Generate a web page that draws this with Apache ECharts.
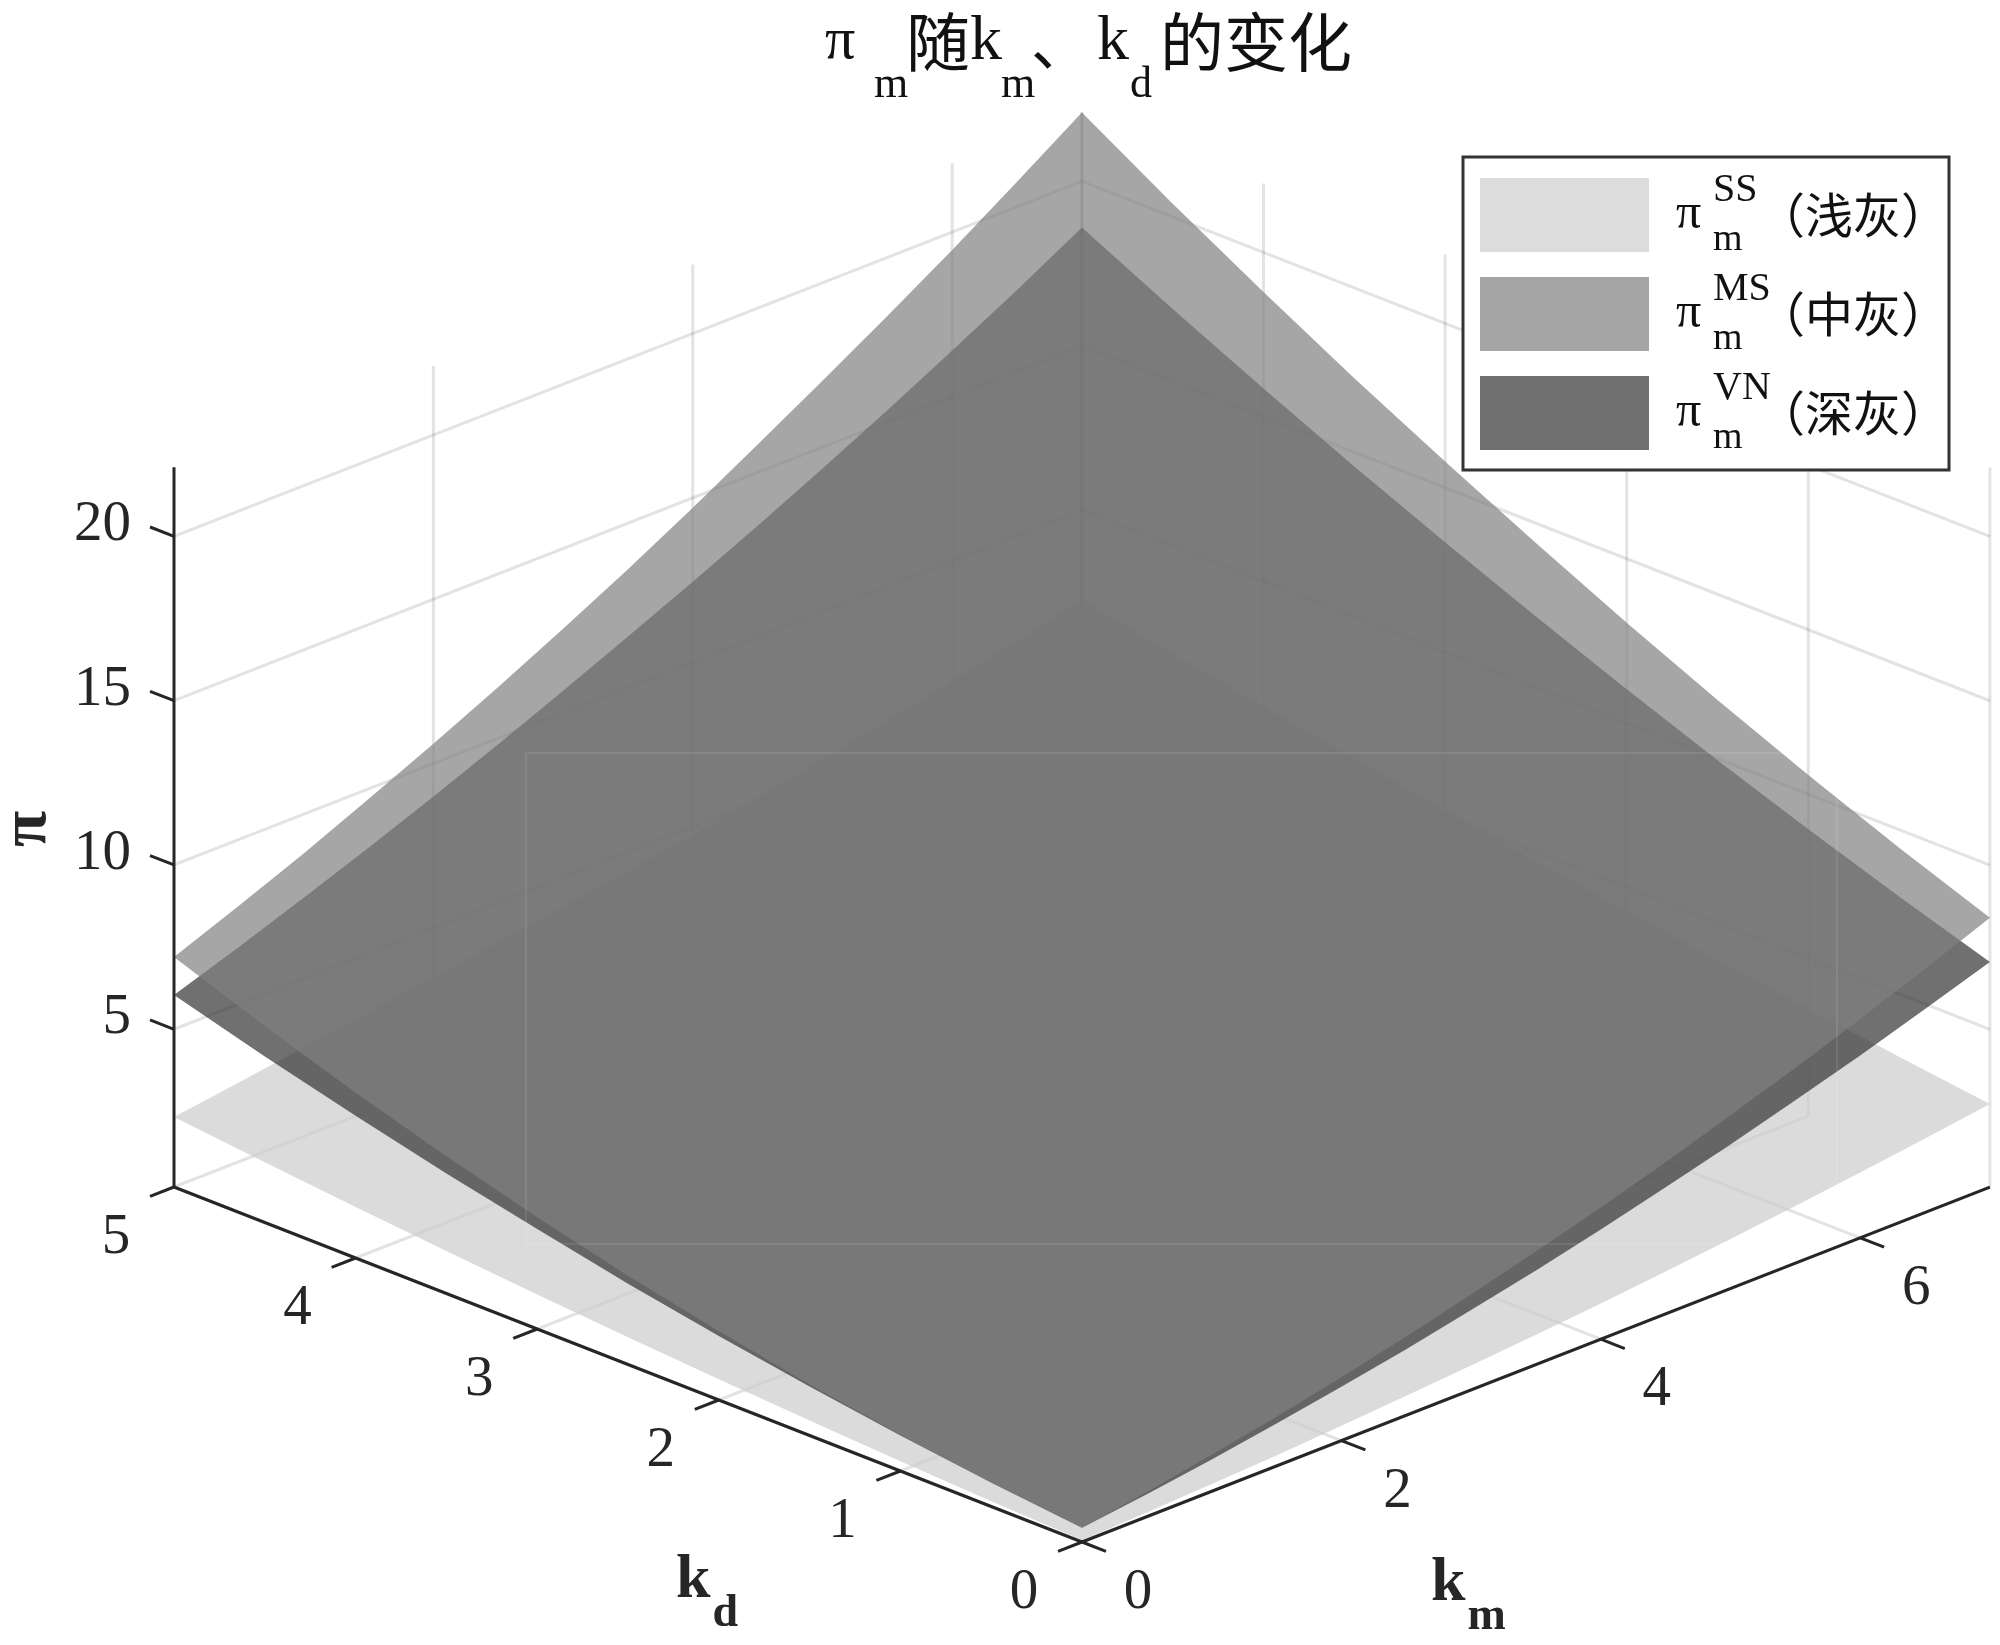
<!DOCTYPE html>
<html><head><meta charset="utf-8">
<style>html,body{margin:0;padding:0;background:#fff}#c{width:2000px;height:1645px}</style>
<script src="https://cdn.jsdelivr.net/npm/echarts@6/dist/echarts.min.js"></script>
</head><body><div id="c"></div>
<script>
// axis ticks
const kmTicks = [0, 2, 4, 6];
const kdTicks = [0, 1, 2, 3, 4, 5];
const piTicks = [5, 10, 15, 20];
const kmMax = 7, kdMax = 5, piMin = 0.2, piMax = 22.1;

// surface heights read along the four edges of the (km, kd) square
const kmSamples = [0, 0.5, 1, 1.5, 2, 2.5, 3, 3.5, 4, 4.5, 5, 5.5, 6, 6.5, 7];
const kdSamples = [0, 0.5, 1, 1.5, 2, 2.5, 3, 3.5, 4, 4.5, 5];
// SS
const ssKm0 = [0.25, 0.36, 0.50, 0.66, 0.83, 1.03, 1.25, 1.49, 1.75, 2.03, 2.33];
const ssKd5 = [2.33, 2.61, 2.90, 3.20, 3.50, 3.80, 4.10, 4.42, 4.75, 5.11, 5.50, 5.91, 6.35, 6.79, 7.26];
const ssKm7 = [2.73, 3.09, 3.47, 3.87, 4.29, 4.73, 5.20, 5.68, 6.19, 6.71, 7.26];
const ssKd0 = [0.25, 0.33, 0.42, 0.52, 0.65, 0.79, 0.94, 1.11, 1.29, 1.49, 1.71, 1.94, 2.19, 2.45, 2.73];
// MS
const msKm0 = [0.63, 0.92, 1.30, 1.75, 2.29, 2.90, 3.60, 4.38, 5.23, 6.17, 7.20];
const msKd5 = [7.20, 7.99, 8.81, 9.69, 10.6, 11.56, 12.56, 13.6, 14.7, 15.85, 17.02, 18.22, 19.46, 20.76, 22.1];
const msKm7 = [8.40, 9.45, 10.58, 11.78, 13.05, 14.4, 15.8, 17.25, 18.8, 20.4, 22.1];
const msKd0 = [0.63, 0.95, 1.31, 1.70, 2.13, 2.60, 3.10, 3.64, 4.21, 4.81, 5.47, 6.14, 6.86, 7.61, 8.40];
// VN
const vnKm0 = [0.63, 0.93, 1.28, 1.69, 2.15, 2.66, 3.24, 3.85, 4.53, 5.25, 6.04];
const vnKd5 = [6.04, 6.73, 7.46, 8.21, 9.00, 9.82, 10.67, 11.55, 12.45, 13.38, 14.35, 15.35, 16.4, 17.47, 18.6];
const vnKm7 = [7.05, 7.96, 8.93, 9.95, 11.03, 12.16, 13.34, 14.57, 15.86, 17.2, 18.6];
const vnKd0 = [0.63, 0.88, 1.17, 1.49, 1.84, 2.21, 2.63, 3.06, 3.54, 4.05, 4.58, 5.16, 5.75, 6.39, 7.05];

const seriesNames = ['πSS', 'πMS', 'πVN'];

// oblique view of the box, in the plane of the hidden x/y axes
function project(km, kd, pi) {
  return [1082 + 129.7 * km - 181.6 * kd,
          1542 - 50.7 * km - 71 * kd - 32.86 * (pi - piMin)];
}
function outline(km0, kd5, km7, kd0) {
  const rows = [];
  kdSamples.forEach((kd, i) => rows.push([0, kd, km0[i]]));
  kmSamples.forEach((km, i) => rows.push([km, kdMax, kd5[i]]));
  for (let i = kdSamples.length - 1; i >= 0; i--) rows.push([kmMax, kdSamples[i], km7[i]]);
  for (let i = kmSamples.length - 1; i >= 0; i--) rows.push([kmSamples[i], 0, kd0[i]]);
  return rows;
}
function surface(name, rows, gray) {
  return {
    type: 'custom', name, coordinateSystem: 'cartesian2d', clip: false, z: 3,
    silent: true, data: rows, encode: {x: 0, y: 1},
    renderItem(params, api) {
      if (params.dataIndex !== 0) return null;
      const pts = rows.map(r => api.coord(project(r[0], r[1], r[2])));
      return {type: 'polygon', shape: {points: pts},
              style: {fill: gray, opacity: 0.7, stroke: null}};
    }
  };
}
function lines(rows, color, width, z) {
  return {
    type: 'custom', coordinateSystem: 'cartesian2d', clip: false, z, silent: true,
    data: rows, encode: {x: 0, y: 1},
    renderItem(params, api) {
      const r = rows[params.dataIndex];
      const a = api.coord(project(r[0], r[1], r[2]));
      const b = api.coord(project(r[3], r[4], r[5]));
      return {type: 'line', shape: {x1: a[0], y1: a[1], x2: b[0], y2: b[1]},
              style: {stroke: color, lineWidth: width}};
    }
  };
}
const gridRows = [];
kmTicks.forEach(k => {
  gridRows.push([k, 0, piMin, k, kdMax, piMin]);
  if (k > 0) gridRows.push([k, kdMax, piMin, k, kdMax, piMax]);
});
gridRows.push([kmMax, kdMax, piMin, kmMax, kdMax, piMax]);
kdTicks.forEach(k => {
  gridRows.push([0, k, piMin, kmMax, k, piMin]);
  gridRows.push([kmMax, k, piMin, kmMax, k, piMax]);
});
piTicks.forEach(p => {
  gridRows.push([0, kdMax, p, kmMax, kdMax, p]);
  gridRows.push([kmMax, kdMax, p, kmMax, 0, p]);
});
const axisRows = [
  [0, 0, piMin, kmMax, 0, piMin],
  [0, 0, piMin, 0, kdMax, piMin],
  [0, kdMax, piMin, 0, kdMax, piMax]
];
kmTicks.forEach(k => axisRows.push([k, 0, piMin, k, -0.132, piMin]));
kdTicks.forEach(k => axisRows.push([0, k, piMin, -0.185, k, piMin]));
piTicks.forEach(p => axisRows.push([0, kdMax, p, 0, kdMax + 0.132, p]));

const TEXT = '#262626', SERIF = '"Liberation Serif"', CJK = '"Noto Sans CJK SC"';
const labelRows = [];
kmTicks.forEach(k => labelRows.push({p: [k, 0, piMin], dx: 56, dy: 51, t: String(k)}));
kdTicks.forEach(k => labelRows.push({p: [0, k, piMin], dx: -58, dy: 51, t: String(k)}));
piTicks.forEach(v => labelRows.push({p: [0, kdMax, v], dx: -43, dy: -11, t: String(v), right: true}));

const labelSeries = {
  type: 'custom', coordinateSystem: 'cartesian2d', clip: false, z: 6, silent: true,
  data: labelRows.map((r, i) => [i, i]), encode: {x: 0, y: 1},
  renderItem(params, api) {
    const r = labelRows[params.dataIndex];
    const c = api.coord(project(r.p[0], r.p[1], r.p[2]));
    return {type: 'text', x: c[0] + r.dx, y: c[1] + r.dy,
            style: {text: r.t, fontFamily: SERIF, fontSize: 57, fill: TEXT,
                    align: r.right ? 'right' : 'center', verticalAlign: 'middle'}};
  }
};

const nameRich = {
  a: {fontFamily: SERIF, fontWeight: 'bold', fontSize: 62, fill: TEXT, lineHeight: 70},
  b: {fontFamily: SERIF, fontWeight: 'bold', fontSize: 46, fill: TEXT, lineHeight: 52, padding: [66, 0, 0, 2]}
};
const nameGraphics = [
  {type: 'text', left: 676, top: 1525, z: 6, style: {text: '{a|k}{b|d}', rich: nameRich}},
  {type: 'text', left: 1431, top: 1528, z: 6, style: {text: '{a|k}{b|m}', rich: nameRich}},
  {type: 'text', x: 28, y: 829, rotation: Math.PI / 2, z: 6,
   style: {text: 'π', fontFamily: SERIF, fontWeight: 'bold', fontSize: 66, fill: TEXT, align: 'center', verticalAlign: 'middle'}},
  // faint light frame that sits over the surfaces in the reference
  {type: 'rect', z: 4, silent: true, shape: {x: 526, y: 753, width: 1311, height: 491},
   style: {fill: null, stroke: 'rgba(255,255,255,0.09)', lineWidth: 2}}
];

const legendLabels = {
  'πSS': ['SS', '（浅灰）'],
  'πMS': ['MS', '（中灰）'],
  'πVN': ['VN', '（深灰）']
};
const titleMain = {color: '#111', fontWeight: 'normal', lineHeight: 70};
const titleSub = {color: '#111', fontWeight: 'normal', lineHeight: 50, padding: [86, 0, 0, 0], fontFamily: SERIF, fontSize: 44};

const option = {
  backgroundColor: '#fff',
  animation: false,
  title: {
    left: 825, top: 7, padding: 0,
    text: '{pi|π}{sm|m}{c|随}{k|k}{sm2|m}{dun|、}{k2|k}{sd|d}{c2|的变化}',
    textStyle: {
      fontWeight: 'normal',
      rich: {
        pi: {...titleMain, fontFamily: SERIF, fontSize: 60, width: 49},
        sm: {...titleSub, width: 32},
        c: {...titleMain, fontFamily: CJK, fontSize: 64},
        c2: {...titleMain, fontFamily: CJK, fontSize: 64},
        k: {...titleMain, fontFamily: SERIF, fontSize: 64, width: 31},
        sm2: {...titleSub, width: 30},
        dun: {...titleMain, fontFamily: CJK, fontSize: 60, width: 66},
        k2: {...titleMain, fontFamily: SERIF, fontSize: 64, width: 33},
        sd: {...titleSub, width: 30}
      }
    }
  },
  legend: {
    left: 1463, top: 157, orient: 'vertical',
    padding: [13, 0, 13, 17], itemGap: 10, itemWidth: 169, itemHeight: 74,
    borderColor: '#333', borderWidth: 3, backgroundColor: '#fff', selectedMode: false,
    icon: 'rect', z: 10,
    data: [
      {name: seriesNames[0], itemStyle: {color: '#dcdcdc', opacity: 1}},
      {name: seriesNames[1], itemStyle: {color: '#a5a5a5', opacity: 1}},
      {name: seriesNames[2], itemStyle: {color: '#707070', opacity: 1}}
    ],
    formatter(name) {
      const l = legendLabels[name];
      return '{sp|}{up|' + l[0] + '}\n{lead|}{pi|π}{gap|}{zh|' + l[1] + '}\n{sp|}{dn|m}';
    },
    textStyle: {
      rich: {
        sp: {width: 59, lineHeight: 24},
        lead: {width: 22, lineHeight: 26},
        up: {fontFamily: SERIF, fontSize: 40, color: '#111', lineHeight: 24},
        pi: {fontFamily: SERIF, fontSize: 50, color: '#111', width: 37, lineHeight: 26},
        gap: {width: 44, lineHeight: 26},
        zh: {fontFamily: CJK, fontSize: 48, color: '#111', lineHeight: 26, width: 183},
        dn: {fontFamily: SERIF, fontSize: 38, color: '#111', lineHeight: 24}
      }
    }
  },
  grid: {left: 0, top: 0, right: 0, bottom: 0},
  xAxis: {type: 'value', min: 0, max: 2000, show: false},
  yAxis: {type: 'value', min: 0, max: 1645, inverse: true, show: false},
  graphic: nameGraphics,
  series: [
    lines(gridRows, 'rgba(38,38,38,0.13)', 3, 1),
    surface(seriesNames[0], outline(ssKm0, ssKd5, ssKm7, ssKd0), '#cccccc'),
    surface(seriesNames[2], outline(vnKm0, vnKd5, vnKm7, vnKd0), '#333333'),
    surface(seriesNames[1], outline(msKm0, msKd5, msKm7, msKd0), '#808080'),
    lines(axisRows, '#262626', 3, 5),
    labelSeries
  ]
};
echarts.init(document.getElementById('c'), null, {renderer: 'canvas'}).setOption(option);
</script></body></html>
